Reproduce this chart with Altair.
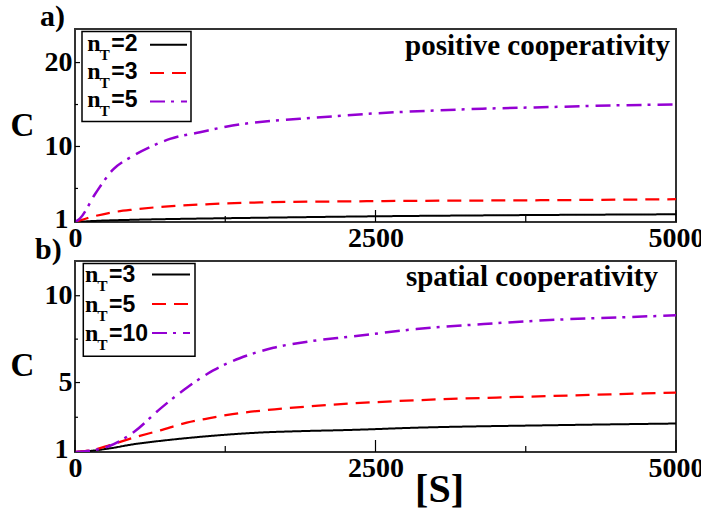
import altair as alt
import pandas as pd

# ---------------- data ----------------
# panel a) positive cooperativity
A_LABELS = ["2", "3", "5"]
A_S_2 = [0, 200, 500, 1000, 1500, 2500, 3500, 5000]
A_C_2 = [1.0, 1.15, 1.27, 1.4, 1.5, 1.68, 1.8, 1.92]
A_S_3 = [0, 100, 290, 500, 710, 1120, 1540, 2120, 2850, 3950, 5000]
A_C_3 = [1.0, 1.45, 2.1, 2.5, 2.8, 3.13, 3.33, 3.44, 3.52, 3.6, 3.72]
A_S_5 = [0, 40, 170, 320, 460, 620, 790, 1040, 1310, 1600, 1870, 2150, 2500,
         2850, 3390, 3950, 4510, 5000]
A_C_5 = [1.0, 1.4, 4.4, 7.3, 8.7, 9.9, 10.9, 11.7, 12.5, 13.0, 13.3, 13.6, 13.95,
         14.2, 14.5, 14.7, 14.9, 15.0]

# panel b) spatial cooperativity
B_LABELS = ["3", "5", "10"]
B_S_3 = [0, 150, 290, 490, 710, 900, 1120, 1540, 1870, 2290, 2840, 3950, 5000]
B_C_3 = [1.0, 1.08, 1.21, 1.45, 1.64, 1.78, 1.92, 2.12, 2.2, 2.27, 2.4, 2.54, 2.64]
B_S_5 = [0, 150, 290, 500, 710, 930, 1120, 1310, 1730, 2290, 2840, 3680, 4510, 5000]
B_C_5 = [1.0, 1.12, 1.4, 1.85, 2.25, 2.69, 2.95, 3.18, 3.5, 3.79, 3.98, 4.17, 4.33, 4.42]
B_S_10 = [0, 150, 270, 490, 710, 930, 1150, 1370, 1650, 1980, 2290, 2840, 3400,
          3950, 4510, 5000]
B_C_10 = [1.0, 1.1, 1.3, 2.15, 3.5, 4.7, 5.7, 6.4, 7.0, 7.4, 7.64, 8.08, 8.37,
          8.6, 8.75, 8.87]

X_TICKS = [0, 2500, 5000]
X_MINOR = [1250, 3750]
A_Y_TICKS = [1, 10, 20]
A_Y_MINOR = [5, 15]
B_Y_TICKS = [1, 5, 10]
B_Y_MINOR = [3, 7.5]

# ---------------- styling ----------------
SERIF = "Liberation Serif"
SANS = "Liberation Sans"
COLORS = ["#000000", "#ff0000", "#9400d3"]
DASHES = [[1, 0], [14, 8], [15, 6, 3, 7]]
WIDTHS = [2.0, 2.5, 2.5]
W = 601
DUMMY = pd.DataFrame({"k": [0]})
LBL = dict(labelFont=SERIF, labelFontWeight="bold", labelFontSize=28, labelColor="black")


def txt(text, x, y, size, font=SERIF, align="left", baseline="alphabetic"):
    return alt.Chart(DUMMY).mark_text(
        text=text, font=font, fontWeight="bold", fontSize=size, color="black",
        align=align, baseline=baseline
    ).encode(x=alt.value(x), y=alt.value(y))


def panel(labels, s_lists, c_lists, ymax, yticks, yminor, h, note, note_x, note_y,
          tag, tag_x, tag_y, c_y, leg, xtitle=""):
    names = ["n_T=" + l for l in labels]
    rows = []
    for i, (nm, ss, cc) in enumerate(zip(names, s_lists, c_lists)):
        for s, c in zip(ss, cc):
            rows.append({"S": s, "C": c, "series": nm, "i": i})
    df = pd.DataFrame(rows)

    xscale = alt.Scale(domain=[0, 5000], nice=False, zero=False)
    yscale = alt.Scale(domain=[1, ymax], nice=False, zero=False)
    xkw = dict(values=X_TICKS, format="d", labelFlush=False, labelPadding=2, **LBL)
    if xtitle:
        xkw.update(title=xtitle, titleX=364, titleY=37, titleAlign="center",
                   titleBaseline="middle", titleFont=SERIF, titleFontSize=40,
                   titleFontWeight="bold", titleColor="black")
    else:
        xkw.update(title="")
    xaxis = alt.Axis(**xkw)
    yaxis = alt.Axis(values=yticks, format="d", title="C",
                     labelPadding={"condition": {"test": "datum.value == 1", "value": 7}, "value": 3},
                     labelOffset={"condition": {"test": "datum.value == 1", "value": -3}, "value": 0},
                     titleAngle=0, titleX=-53, titleY=c_y, titleAlign="center",
                     titleBaseline="middle", titleFont=SERIF, titleFontSize=33,
                     titleFontWeight="bold", titleColor="black", **LBL)
    X = lambda: alt.X("S:Q", scale=xscale, axis=xaxis)
    Y = lambda: alt.Y("C:Q", scale=yscale, axis=yaxis)

    lines = alt.Chart(df).mark_line(interpolate="monotone", clip=True).encode(
        x=X(), y=Y(),
        color=alt.Color("series:N", scale=alt.Scale(domain=names, range=COLORS), legend=None),
        strokeDash=alt.StrokeDash("series:N", scale=alt.Scale(domain=names, range=DASHES), legend=None),
        strokeWidth=alt.StrokeWidth("series:N", scale=alt.Scale(domain=names, range=WIDTHS), legend=None),
        detail="series:N",
    )

    xmaj = alt.Chart(pd.DataFrame({"S": X_TICKS})).mark_rule(color="black", strokeWidth=1.2).encode(
        x=X(), y=alt.value(h), y2=alt.value(h - 12))
    xmin = alt.Chart(pd.DataFrame({"S": X_MINOR})).mark_rule(color="black", strokeWidth=1.2).encode(
        x=X(), y=alt.value(h), y2=alt.value(h - 6))
    ymaj = alt.Chart(pd.DataFrame({"C": yticks[1:]})).mark_rule(color="black", strokeWidth=1.2).encode(
        y=Y(), x=alt.value(0), x2=alt.value(5))
    ymin = alt.Chart(pd.DataFrame({"C": yminor})).mark_rule(color="black", strokeWidth=1.2).encode(
        y=Y(), x=alt.value(0), x2=alt.value(3))

    layers = [lines, xmaj, xmin, ymaj, ymin]

    # legend box
    bx0, by0, bx1, by1 = leg["box"]
    layers.append(alt.Chart(DUMMY).mark_rect(fill="white", stroke="black", strokeWidth=1.5).encode(
        x=alt.value(bx0), x2=alt.value(bx1), y=alt.value(by0), y2=alt.value(by1)))
    for i, lab in enumerate(labels):
        base = leg["base"][i]
        layers.append(txt("n", leg["nx"], base, 24))
        layers.append(txt("T", leg["nx"] + 12.5, base + 9, 15))
        layers.append(txt("=" + lab, leg["nx"] + 24, base, 23, font=SANS))
        layers.append(alt.Chart(DUMMY).mark_rule(
            color=COLORS[i], strokeDash=DASHES[i], strokeWidth=2).encode(
            x=alt.value(leg["lx"][0]), x2=alt.value(leg["lx"][1]), y=alt.value(leg["ly"][i])))

    layers.append(txt(note, note_x, note_y, 29, align="right"))
    layers.append(txt(tag, tag_x, tag_y, 30))

    return alt.layer(*layers).properties(width=W, height=h)


top = panel(A_LABELS, [A_S_2, A_S_3, A_S_5], [A_C_2, A_C_3, A_C_5], 24,
            A_Y_TICKS, A_Y_MINOR, 193, "positive cooperativity", 595, 26,
            "a)", -35, -3, 96,
            dict(box=(7, 2.4, 116, 92.4), base=[22.4, 50, 78], nx=12.3,
                 lx=(75, 112), ly=[15.7, 44, 72.4]))
bottom = panel(B_LABELS, [B_S_3, B_S_5, B_S_10], [B_C_3, B_C_5, B_C_10], 12,
               B_Y_TICKS, B_Y_MINOR, 191, "spatial cooperativity", 583, 24.5,
               "b)", -40, -2.5, 104,
               dict(box=(8.3, 2.6, 120, 95.3), base=[21, 50.5, 80], nx=10,
                    lx=(77, 115), ly=[13.6, 43, 72]),
               xtitle="[S]")

chart = alt.vconcat(top, bottom, spacing=39, bounds="flush").resolve_scale(
    color="independent", strokeDash="independent", strokeWidth="independent"
).properties(
    autosize=alt.AutoSizeParams(type="none"),
    padding={"left": 75, "top": 29, "right": 25, "bottom": 481},
).configure_view(
    stroke="#333333", strokeWidth=2
).configure_axis(
    domain=False, ticks=False, tickSize=0, grid=False, **LBL
)

chart.save("out.html", embed_options={"renderer": "svg", "actions": False})
